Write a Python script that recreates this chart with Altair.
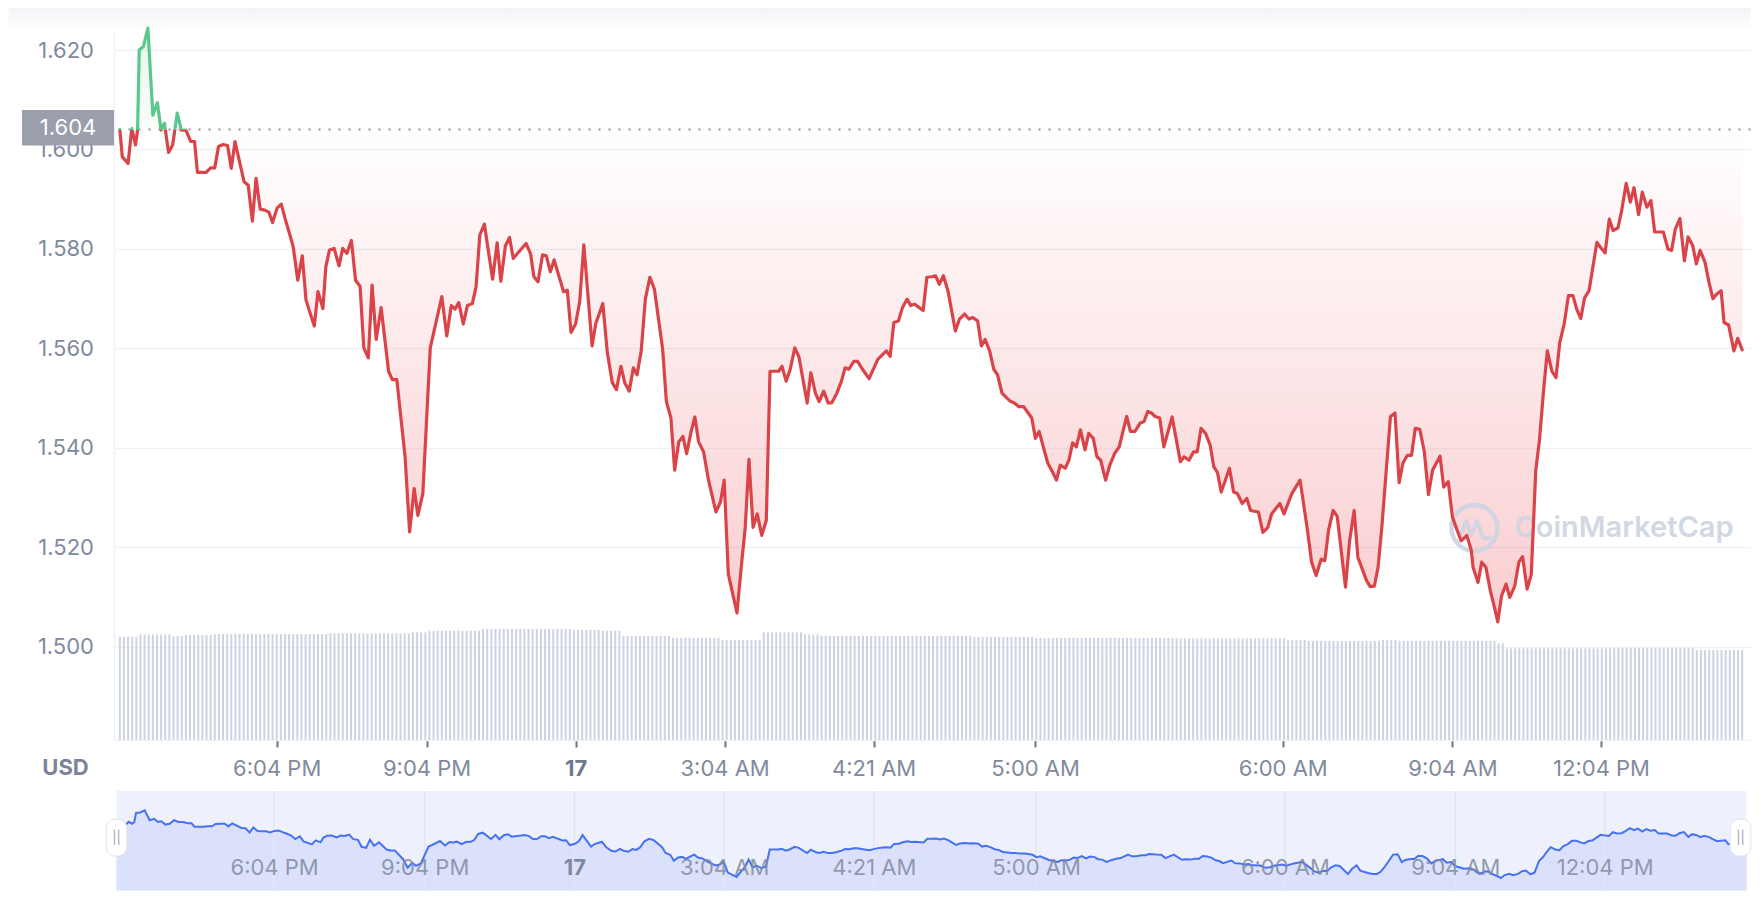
import json
import altair as alt
import pandas as pd

# ---------------- data ----------------
open_price = 1.604

# position of each traced vertex along the (ordinal) time axis, in data-point index units
price_idx = [
    0.0, 0.6, 2.0, 2.9, 3.8, 4.3, 4.7, 5.7, 6.8, 8.0, 9.1, 10.0, 10.8, 11.8, 12.8, 13.9, 14.9, 16.0,
    17.2, 18.1, 18.8, 20.9, 22.0, 23.0, 23.9, 25.0, 26.1, 27.0, 27.9, 30.1, 31.1, 32.1, 33.0, 34.0,
    35.1, 36.1, 37.0, 38.1, 39.1, 40.2, 41.1, 42.0, 43.1, 44.2, 45.1, 47.1, 48.0, 49.2, 49.9, 50.8,
    51.9, 53.1, 54.0, 55.0, 56.1, 57.1, 58.2, 59.1, 60.2, 61.1, 62.1, 63.3, 65.1, 66.0, 67.1, 69.1,
    70.2, 71.3, 72.2, 73.4, 75.2, 78.0, 79.2, 80.3, 81.2, 82.1, 83.2, 84.2, 85.4, 86.3, 87.2, 88.3,
    90.3, 91.4, 92.3, 93.4, 94.4, 95.3, 98.4, 99.5, 100.3, 101.3, 102.4, 103.3, 104.3, 105.2, 107.5,
    108.4, 109.3, 110.4, 111.4, 112.4, 114.4, 115.3, 117.0, 118.1, 119.3, 120.3, 121.4, 122.3, 123.4,
    124.4, 125.3, 126.3, 127.3, 128.4, 129.5, 131.5, 132.4, 133.5, 134.4, 135.4, 136.4, 137.3, 138.4,
    139.3, 140.2, 141.4, 142.6, 144.4, 145.5, 146.4, 147.4, 149.5, 150.6, 151.5, 152.4, 153.4, 154.4,
    155.5, 156.6, 157.5, 159.6, 160.4, 161.4, 162.4, 163.5, 164.5, 166.5, 167.4, 168.5, 169.4, 170.5,
    171.6, 172.5, 173.7, 174.8, 175.7, 176.6, 177.8, 178.7, 179.9, 181.5, 183.6, 184.8, 185.7, 186.6,
    187.5, 188.6, 189.6, 190.7, 191.6, 192.5, 194.6, 195.5, 196.7, 197.6, 198.5, 199.5, 200.6, 202.4,
    203.4, 204.6, 205.7, 206.6, 207.8, 208.7, 209.6, 210.7, 211.7, 212.6, 213.7, 214.9, 215.8, 216.7,
    217.7, 218.9, 219.8, 220.9, 221.8, 222.7, 223.8, 224.8, 225.9, 226.9, 227.8, 229.0, 229.9, 230.8,
    231.7, 232.7, 233.8, 234.7, 235.8, 236.7, 237.6, 238.8, 239.8, 241.0, 242.1, 243.0, 243.9, 244.8,
    245.9, 247.2, 248.1, 249.0, 249.9, 250.8, 251.9, 252.9, 254.9, 256.9, 257.8, 259.0, 260.1, 261.0,
    261.9, 263.0, 264.1, 265.0, 265.9, 266.8, 268.8, 269.8, 270.7, 271.9, 273.0, 273.9, 275.8, 276.9,
    278.1, 279.0, 281.0, 282.0, 283.9, 285.9, 287.7, 288.7, 289.8, 291.0, 291.9, 292.8, 293.9, 294.9,
    296.9, 297.9, 299.0, 299.9, 301.1, 302.0, 302.9, 303.9, 304.8, 305.7, 307.8, 308.9, 309.9, 310.8,
    311.9, 312.9, 313.8, 314.9, 316.0, 317.0, 318.0, 318.9, 319.8, 320.7, 321.8, 322.8, 323.7, 324.9,
    326.3, 327.4, 327.8, 329.0, 329.9, 330.9, 332.0, 332.9, 333.8, 334.7, 335.8, 336.7, 337.9, 338.9,
    339.8, 340.9, 341.9, 343.0, 343.9, 344.9, 345.8, 346.9, 347.9, 348.8, 349.9, 350.9, 352.0, 352.9,
    353.9, 354.8, 355.9, 357.8, 358.7, 359.8, 360.8, 361.7, 362.9, 363.8, 364.9, 365.9, 366.8, 367.9,
    368.8, 369.9, 370.9, 371.8, 373.9, 375.0, 375.9, 376.8, 377.9, 379.0, 379.9, 381.0, 381.9, 382.8,
    384.0, 385.0, 385.9, 386.8, 387.9, 388.6, 389.7, 391.0, 391.9, 393.0,
]
price_val = [
    1.6040, 1.5985, 1.5972, 1.6042, 1.6009, 1.6039, 1.6200, 1.6207, 1.6244, 1.6069, 1.6094, 1.6039,
    1.6053, 1.5994, 1.6009, 1.6073, 1.6039, 1.6039, 1.6016, 1.6016, 1.5954, 1.5954, 1.5963, 1.5963,
    1.6006, 1.6010, 1.6008, 1.5962, 1.6016, 1.5935, 1.5928, 1.5856, 1.5942, 1.5880, 1.5878, 1.5874,
    1.5853, 1.5882, 1.5890, 1.5856, 1.5831, 1.5804, 1.5737, 1.5786, 1.5697, 1.5645, 1.5714, 1.5680,
    1.5764, 1.5798, 1.5801, 1.5766, 1.5801, 1.5791, 1.5817, 1.5737, 1.5725, 1.5601, 1.5581, 1.5727,
    1.5618, 1.5682, 1.5554, 1.5537, 1.5537, 1.5382, 1.5231, 1.5318, 1.5264, 1.5308, 1.5601, 1.5704,
    1.5625, 1.5686, 1.5679, 1.5692, 1.5649, 1.5686, 1.5690, 1.5724, 1.5828, 1.5850, 1.5739, 1.5812,
    1.5735, 1.5806, 1.5823, 1.5781, 1.5811, 1.5790, 1.5744, 1.5734, 1.5788, 1.5786, 1.5754, 1.5778,
    1.5714, 1.5717, 1.5632, 1.5649, 1.5694, 1.5808, 1.5605, 1.5650, 1.5690, 1.5591, 1.5531, 1.5517,
    1.5564, 1.5531, 1.5514, 1.5561, 1.5547, 1.5595, 1.5699, 1.5743, 1.5719, 1.5598, 1.5493, 1.5460,
    1.5355, 1.5412, 1.5423, 1.5388, 1.5433, 1.5462, 1.5412, 1.5392, 1.5335, 1.5271, 1.5291, 1.5335,
    1.5146, 1.5068, 1.5166, 1.5240, 1.5377, 1.5240, 1.5267, 1.5224, 1.5254, 1.5554, 1.5554, 1.5564,
    1.5534, 1.5558, 1.5601, 1.5583, 1.5490, 1.5551, 1.5510, 1.5493, 1.5514, 1.5490, 1.5491, 1.5510,
    1.5534, 1.5561, 1.5558, 1.5574, 1.5574, 1.5558, 1.5539, 1.5578, 1.5588, 1.5595, 1.5584, 1.5652,
    1.5655, 1.5682, 1.5699, 1.5686, 1.5689, 1.5676, 1.5743, 1.5744, 1.5746, 1.5729, 1.5746, 1.5716,
    1.5635, 1.5659, 1.5669, 1.5659, 1.5662, 1.5655, 1.5605, 1.5618, 1.5595, 1.5558, 1.5547, 1.5510,
    1.5500, 1.5493, 1.5490, 1.5483, 1.5483, 1.5473, 1.5460, 1.5419, 1.5433, 1.5399, 1.5369, 1.5352,
    1.5335, 1.5365, 1.5359, 1.5375, 1.5410, 1.5402, 1.5436, 1.5396, 1.5429, 1.5419, 1.5382, 1.5375,
    1.5335, 1.5365, 1.5389, 1.5402, 1.5433, 1.5463, 1.5433, 1.5433, 1.5450, 1.5453, 1.5473, 1.5470,
    1.5463, 1.5460, 1.5402, 1.5462, 1.5372, 1.5382, 1.5375, 1.5392, 1.5392, 1.5439, 1.5429, 1.5406,
    1.5362, 1.5350, 1.5311, 1.5359, 1.5311, 1.5308, 1.5288, 1.5298, 1.5274, 1.5271, 1.5230, 1.5240,
    1.5267, 1.5288, 1.5267, 1.5308, 1.5335, 1.5234, 1.5170, 1.5143, 1.5176, 1.5173, 1.5234, 1.5274,
    1.5262, 1.5120, 1.5213, 1.5274, 1.5180, 1.5153, 1.5133, 1.5121, 1.5122, 1.5160, 1.5240, 1.5463,
    1.5470, 1.5330, 1.5369, 1.5385, 1.5385, 1.5439, 1.5437, 1.5392, 1.5306, 1.5355, 1.5369, 1.5383,
    1.5321, 1.5332, 1.5261, 1.5240, 1.5213, 1.5224, 1.5193, 1.5160, 1.5129, 1.5170, 1.5160, 1.5112,
    1.5082, 1.5050, 1.5102, 1.5126, 1.5099, 1.5122, 1.5170, 1.5181, 1.5116, 1.5145, 1.5355, 1.5416,
    1.5517, 1.5595, 1.5554, 1.5541, 1.5611, 1.5650, 1.5706, 1.5706, 1.5679, 1.5660, 1.5701, 1.5716,
    1.5813, 1.5803, 1.5792, 1.5860, 1.5837, 1.5842, 1.5877, 1.5932, 1.5894, 1.5923, 1.5869, 1.5914,
    1.5884, 1.5897, 1.5834, 1.5834, 1.5800, 1.5797, 1.5840, 1.5861, 1.5776, 1.5824, 1.5807, 1.5770,
    1.5797, 1.5773, 1.5731, 1.5700, 1.5709, 1.5716, 1.5652, 1.5647, 1.5595, 1.5620, 1.5597,
]

# volume bars (one per data point), given as runs of equal height: level (M USD) x count
vol_levels = [516, 528, 520, 525, 530, 533, 538, 546, 555, 550, 546, 521, 511, 500, 538, 528,
              521, 515, 510, 508, 500, 495, 501, 496, 483, 458, 461, 450]
vol_runs = [5, 8, 3, 7, 28, 20, 4, 13, 22, 7, 5, 12, 12, 10, 10, 4,
            37, 15, 34, 27, 5, 18, 4, 24, 2, 26, 20, 12]

tick_idx = [38.0, 74.3, 110.4, 146.5, 182.6, 221.7, 281.7, 322.8, 358.8]
tick_labels = ["6:04 PM", "9:04 PM", "17", "3:04 AM", "4:21 AM", "5:00 AM", "6:00 AM", "9:04 AM", "12:04 PM"]
bold_tick = 110.4
y_ticks = [1.50, 1.52, 1.54, 1.56, 1.58, 1.60, 1.62]

# ---------------- tables ----------------
price_df = pd.DataFrame({"idx": price_idx, "price": price_val})
price_df["base"] = open_price
volume = []
for lvl, n in zip(vol_levels, vol_runs):
    volume += [lvl] * n
vol_df = pd.DataFrame({"idx": list(range(len(volume))), "volume": volume})
ticks_df = pd.DataFrame({"idx": tick_idx})
one = pd.DataFrame({"base": [open_price]})

# ---------------- styling ----------------
FONT = "Inter"
RED = "#da4347"
GREEN = "#5bc78c"
LABEL = "#808a9d"
LABEL_BOLD = "#6f7890"
GRID = "#eff2f5"
W, H = 1636.5, 732
NAV_W, NAV_H = 1632.5, 99.4
NAV_DOMAIN = [1.4831, 1.6587]
EXTENT = 105.5

pmax, pmin = max(price_val), min(price_val)
f = (pmax - open_price) / (pmax - pmin)

line_grad = alt.LinearGradient(
    gradient="linear", x1=0, y1=0, x2=0, y2=1,
    stops=[alt.GradientStop(offset=0, color=GREEN), alt.GradientStop(offset=f, color=GREEN),
           alt.GradientStop(offset=f, color=RED), alt.GradientStop(offset=1, color=RED)])
area_grad = alt.LinearGradient(
    gradient="linear", x1=0, y1=0, x2=0, y2=1,
    stops=[alt.GradientStop(offset=0, color="rgba(91,199,140,0.16)"),
           alt.GradientStop(offset=f, color="rgba(91,199,140,0.03)"),
           alt.GradientStop(offset=f, color="rgba(234,57,67,0.0)"),
           alt.GradientStop(offset=1, color="rgba(234,57,67,0.25)")])
shade_grad = alt.LinearGradient(
    gradient="linear", x1=0, y1=0, x2=0, y2=1,
    stops=[alt.GradientStop(offset=0, color="#f3f4f7"), alt.GradientStop(offset=1, color="#ffffff")])

label_expr = f"{json.dumps(tick_labels)}[indexof({json.dumps(tick_idx)}, datum.value)]"
bold_cond = {"condition": {"test": f"datum.value == {bold_tick}", "value": "bold"}, "value": "normal"}
color_cond = {"condition": {"test": f"datum.value == {bold_tick}", "value": LABEL_BOLD}, "value": LABEL}

x_axis_main = alt.Axis(values=tick_idx, labelExpr=label_expr, grid=False, domain=True,
                       domainColor=GRID, domainWidth=1.5, ticks=True, tickColor="#6b7489",
                       tickSize=7, tickWidth=2, labelFontSize=22, labelColor=color_cond,
                       labelFontWeight=bold_cond, labelPadding=11.5, labelFlush=False,
                       labelOverlap=False, title=None, minExtent=44, maxExtent=44)
y_axis_main = alt.Axis(values=y_ticks, format=".3f", orient="left", grid=True, gridColor=GRID,
                       gridWidth=1.5, domain=True, domainColor=GRID, domainWidth=1.5,
                       ticks=False, tickSize=0, labelPadding=20.5, labelFontSize=22,
                       labelColor=LABEL, title=None, minExtent=EXTENT, maxExtent=EXTENT)

x_main = alt.X("idx:Q", scale=alt.Scale(domain=[-0.2, 393.8], nice=False, zero=False), axis=x_axis_main)
y_scale_main = alt.Scale(domain=[1.48124, 1.62845], nice=False, zero=False)
y_main = alt.Y("price:Q", scale=y_scale_main, axis=y_axis_main)

# ---------------- main panel ----------------
vol_bars = alt.Chart(vol_df).mark_bar(size=2, color="#cdd3e0").encode(
    x=x_main,
    y=alt.Y("volume:Q", scale=alt.Scale(domain=[0, 3660], nice=False), axis=None))

shade = alt.Chart(one).mark_rect(fill=shade_grad).encode(
    x=alt.value(-EXTENT), x2=alt.value(W), y=alt.value(0), y2=alt.value(24))

area = alt.Chart(price_df).mark_area(fill=area_grad).encode(x=x_main, y=y_main, y2=alt.Y2("base:Q"))

WM = "#cdd4e2"
wm_ring = alt.Chart(one).mark_point(shape="circle", filled=False, size=2116, strokeWidth=4.5,
                                    color=WM, opacity=0.9).encode(x=alt.value(1360.5), y=alt.value(520))
wm_wave = alt.Chart(one).mark_point(
    shape="M -0.62 0.3 L -0.36 -0.3 L -0.13 0.3 L 0.1 -0.3 L 0.32 0.3 Q 0.45 0.55 0.66 0.4",
    filled=False, size=2116, strokeWidth=4, color=WM, opacity=0.9,
    strokeJoin="round", strokeCap="round").encode(x=alt.value(1360.5), y=alt.value(520))
wm_text = alt.Chart(one).mark_text(text="CoinMarketCap", align="left", baseline="middle",
                                   fontSize=29, fontWeight=600, color=WM, opacity=0.9).encode(
    x=alt.value(1400.5), y=alt.value(520))

base_rule = alt.Chart(one).mark_rule(strokeDash=[2, 8], color="#8f949e", strokeWidth=2).encode(
    y=alt.Y("base:Q", scale=y_scale_main, axis=y_axis_main))

line = alt.Chart(price_df).mark_line(stroke=line_grad, strokeWidth=3.2, strokeJoin="round",
                                     strokeCap="round").encode(x=x_main, y=y_main)

box = alt.Chart(one).mark_rect(color="#9a9fab", yOffset=-19.6, y2Offset=16).encode(
    x=alt.value(-92), x2=alt.value(0),
    y=alt.Y("base:Q", scale=y_scale_main, axis=y_axis_main), y2=alt.Y2("base:Q"))
box_text = alt.Chart(one).mark_text(color="white", fontSize=22, align="center", baseline="middle",
                                    dy=-1.5).encode(
    x=alt.value(-46), y=alt.Y("base:Q", scale=y_scale_main, axis=y_axis_main),
    text=alt.Text("base:Q", format=".3f"))

usd = alt.Chart(one).mark_text(text="USD", fontSize=22, fontWeight="bold", color="#7b8497",
                               align="center", baseline="middle").encode(
    x=alt.value(-48.5), y=alt.value(760))

price_layer = alt.layer(shade, area, wm_ring, wm_wave, wm_text, base_rule, line, box, box_text, usd)
main = alt.layer(vol_bars, price_layer).resolve_scale(y="independent").properties(width=W, height=H)

# ---------------- navigator ----------------
x_axis_nav = alt.Axis(values=tick_idx, labelExpr=label_expr, grid=False, domain=False, ticks=False,
                      tickSize=0, labelPadding=-33, labelFontSize=22, labelColor=color_cond,
                      labelOpacity=0.85, labelFontWeight=bold_cond, labelFlush=False,
                      labelOverlap=False, title=None, zindex=1)
y_axis_nav = alt.Axis(labels=False, ticks=False, domain=False, grid=False, title=None,
                      minExtent=EXTENT, maxExtent=EXTENT)
x_nav = alt.X("idx:Q", scale=alt.Scale(domain=[-0.603, 393], nice=False, zero=False), axis=x_axis_nav)
y_nav = alt.Y("price:Q", scale=alt.Scale(domain=NAV_DOMAIN, nice=False, zero=False), axis=y_axis_nav)

nav_bg = alt.Chart(one).mark_rect(fill="#eef1fc").encode(
    x=alt.value(2.5), x2=alt.value(NAV_W), y=alt.value(0), y2=alt.value(NAV_H))
nav_area = alt.Chart(price_df).mark_area(color="#dbe1fa").encode(
    x=x_nav, y=y_nav, y2=alt.datum(NAV_DOMAIN[0]))
nav_grid = alt.Chart(ticks_df).mark_rule(color="#e2e6f4", strokeWidth=1.5).encode(
    x=x_nav, y=alt.value(0), y2=alt.value(NAV_H))
nav_line = alt.Chart(price_df).mark_line(color="#4671f2", strokeWidth=2).encode(x=x_nav, y=y_nav)

h_left = alt.Chart(one).mark_rect(fill="white", stroke="#dfe2ea", strokeWidth=1, cornerRadius=9,
                                  xOffset=-10.35, x2Offset=10.35).encode(
    x=alt.datum(0), x2=alt.datum(0), y=alt.value(28.3), y2=alt.value(65.1))
h_right = alt.Chart(one).mark_rect(fill="white", stroke="#dfe2ea", strokeWidth=1, cornerRadius=9,
                                   xOffset=-16.35, x2Offset=4.35).encode(
    x=alt.datum(393), x2=alt.datum(393), y=alt.value(28.3), y2=alt.value(65.1))
g_left = alt.Chart(one).mark_text(text="||", fontSize=13, color="#9ea4b4", align="center",
                                  baseline="middle").encode(x=alt.datum(0), y=alt.value(46.7))
g_right = alt.Chart(one).mark_text(text="||", fontSize=13, color="#9ea4b4", align="center",
                                   baseline="middle", dx=-6).encode(x=alt.datum(393), y=alt.value(46.7))

nav = alt.layer(nav_bg, nav_area, nav_grid, nav_line, h_left, h_right, g_left, g_right).properties(
    width=NAV_W, height=NAV_H)

chart = alt.vconcat(main, nav, spacing=6.0).properties(padding=0, background="white").configure(
    font=FONT).configure_view(strokeWidth=0)

chart.save("out.html", embed_options={"renderer": "svg", "actions": False})
